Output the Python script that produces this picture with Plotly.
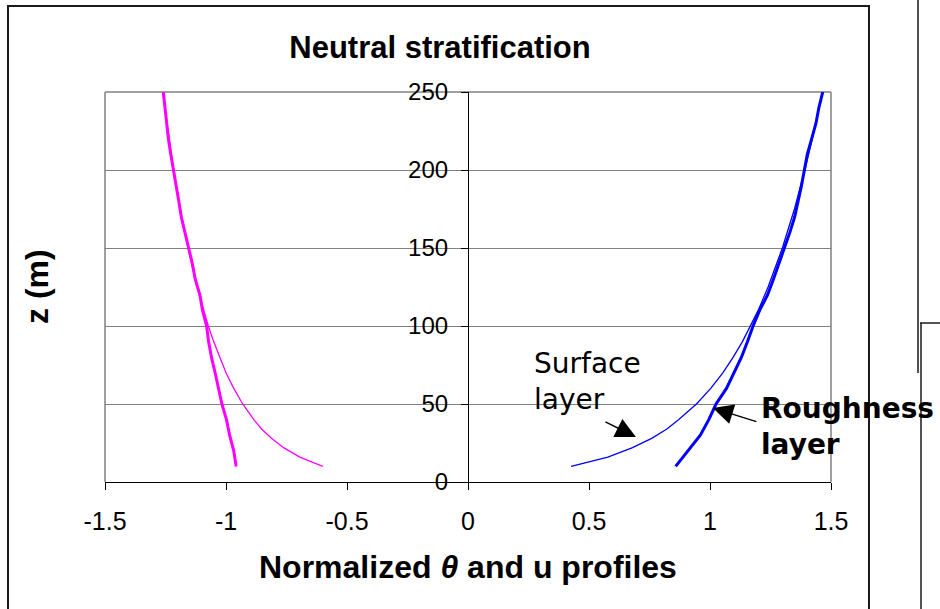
import plotly.graph_objects as go

# --- profile data -------------------------------------------------------
# LES profiles (every 10 m)
Z_LES = [10, 20, 30, 40, 50, 60, 70, 80, 90, 100, 110, 120, 130,
         140, 150, 160, 170, 180, 190, 200, 210, 220, 230, 240, 250]
THETA_LES = [-0.958, -0.968, -0.985, -0.998, -1.017, -1.030, -1.045, -1.060,
             -1.072, -1.080, -1.097, -1.108, -1.127, -1.139, -1.155, -1.170,
             -1.185, -1.195, -1.207, -1.218, -1.228, -1.238, -1.245, -1.252,
             -1.259]
U_LES = [0.858, 0.910, 0.960, 0.995, 1.025, 1.068, 1.100, 1.130, 1.155,
         1.178, 1.205, 1.238, 1.262, 1.285, 1.310, 1.330, 1.350, 1.365,
         1.378, 1.390, 1.402, 1.420, 1.438, 1.450, 1.466]

# Surface-layer similarity profiles
Z_SL = [10, 16, 22, 28, 34, 40, 50, 60, 70, 80, 90, 100, 110, 125,
        150, 175, 200, 225, 250]
THETA_SL = [-0.600, -0.695, -0.762, -0.812, -0.853, -0.885, -0.931, -0.968,
            -1.000, -1.027, -1.051, -1.073, -1.093, -1.120, -1.157, -1.189,
            -1.216, -1.240, -1.262]
U_SL = [0.426, 0.578, 0.680, 0.759, 0.822, 0.871, 0.944, 1.003, 1.053,
        1.096, 1.134, 1.168, 1.199, 1.240, 1.299, 1.349, 1.392, 1.430, 1.464]

X_TICKS = [-1.5, -1, -0.5, 0, 0.5, 1, 1.5]
X_TICK_TEXT = ["-1.5", "-1", "-0.5", "0", "0.5", "1", "1.5"]
Y_TICKS = [0, 50, 100, 150, 200, 250]

# --- figure geometry ----------------------------------------------------
W, H = 940, 609
L, R, T, B = 105, 831, 92, 482          # plot area in pixels


def px(xp):
    return (xp - L) / (R - L)


def py(yp):
    return (B - yp) / (B - T)


ARIAL = "Liberation Sans, Arial, sans-serif"
DEJAVU = "DejaVu Sans, Verdana, sans-serif"
MAGENTA = "#FF00FF"
BLUE = "#0000FF"

fig = go.Figure()
fig.add_trace(go.Scatter(x=THETA_SL, y=Z_SL, mode="lines",
                         line=dict(color=MAGENTA, width=1.3)))
fig.add_trace(go.Scatter(x=U_SL, y=Z_SL, mode="lines",
                         line=dict(color=BLUE, width=1.3)))
fig.add_trace(go.Scatter(x=THETA_LES, y=Z_LES, mode="lines",
                         line=dict(color=MAGENTA, width=3)))
fig.add_trace(go.Scatter(x=U_LES, y=Z_LES, mode="lines",
                         line=dict(color=BLUE, width=3)))

shapes = []
# grey frame of the plot area (left, top, right)
for x0, y0, x1, y1 in [(0, 0, 0, 1), (0, 1, 1, 1), (1, 1, 1, 0)]:
    shapes.append(dict(type="line", xref="paper", yref="paper",
                       x0=x0, y0=y0, x1=x1, y1=y1,
                       line=dict(color="#808080", width=1.5), layer="below"))
# outer chart border
shapes.append(dict(type="rect", xref="paper", yref="paper",
                   x0=px(8), x1=px(869), y0=py(614), y1=py(6),
                   line=dict(color="#1a1a1a", width=2)))
# edge of the neighbouring chart
for x0, y0, x1, y1 in [(918, -4, 918, 373), (920, 323, 944, 323),
                       (921, 323, 921, 614)]:
    shapes.append(dict(type="line", xref="paper", yref="paper",
                       x0=px(x0), y0=py(y0), x1=px(x1), y1=py(y1),
                       line=dict(color="#1a1a1a", width=1.5)))

annotations = [
    # y-axis title
    dict(text="<b>z (m)</b>", xref="paper", yref="paper",
         x=px(37), y=py(287), textangle=-90, showarrow=False,
         xanchor="center", yanchor="middle",
         font=dict(family=ARIAL, size=32, color="black")),
    # x-axis title
    dict(text="<b>Normalized <i>θ</i> and u profiles</b>", xref="paper",
         yref="paper", x=px(468), y=py(567), showarrow=False,
         xanchor="center", yanchor="middle",
         font=dict(family=ARIAL, size=32, color="black")),
    # layer labels
    dict(text="Surface<br>layer", xref="paper", yref="paper",
         x=px(532), y=py(381), showarrow=False, align="left",
         xanchor="left", yanchor="middle",
         font=dict(family=DEJAVU, size=28, color="black")),
    dict(text="<b>Roughness<br>layer</b>", xref="paper", yref="paper",
         x=px(759), y=py(426), showarrow=False, align="left",
         xanchor="left", yanchor="middle",
         font=dict(family=DEJAVU, size=28, color="black")),
    # arrows
    dict(text="", x=0.694, y=28.8, xref="x", yref="y", ax=-32, ay=-16,
         showarrow=True, arrowhead=2, arrowsize=2.7, arrowwidth=1.5,
         arrowcolor="black", standoff=0),
    dict(text="", x=1.012, y=47.4, xref="x", yref="y", ax=45, ay=14,
         showarrow=True, arrowhead=2, arrowsize=2.7, arrowwidth=1.5,
         arrowcolor="black", standoff=0),
]

fig.update_layout(
    width=W, height=H,
    margin=dict(l=L, r=W - R, t=T, b=H - B, pad=0),
    paper_bgcolor="white", plot_bgcolor="white",
    showlegend=False,
    title=dict(text="Neutral stratification", xref="container",
               yref="container", x=440 / W, y=1 - 47 / H,
               xanchor="center", yanchor="middle",
               font=dict(family=ARIAL, size=31, color="black",
                         weight="bold")),
    xaxis=dict(range=[-1.5, 1.5], tickvals=X_TICKS, ticktext=X_TICK_TEXT,
               showgrid=False, zeroline=False, showline=True,
               linecolor="black", linewidth=1.2, ticks="outside",
               ticklen=7, tickwidth=1.2, tickcolor="black",
               ticklabelstandoff=10,
               tickfont=dict(family=ARIAL, size=25, color="black")),
    yaxis=dict(range=[0, 250], tickvals=Y_TICKS, anchor="free", position=0.5,
               showgrid=True, gridcolor="#808080", gridwidth=1.3,
               zeroline=False, showline=True, linecolor="black",
               linewidth=1.2, ticks="outside", ticklen=7, tickwidth=1.2,
               tickcolor="black", ticklabelstandoff=8,
               tickfont=dict(family=ARIAL, size=24, color="black")),
    shapes=shapes,
    annotations=annotations,
)

fig.write_html("out.html")
